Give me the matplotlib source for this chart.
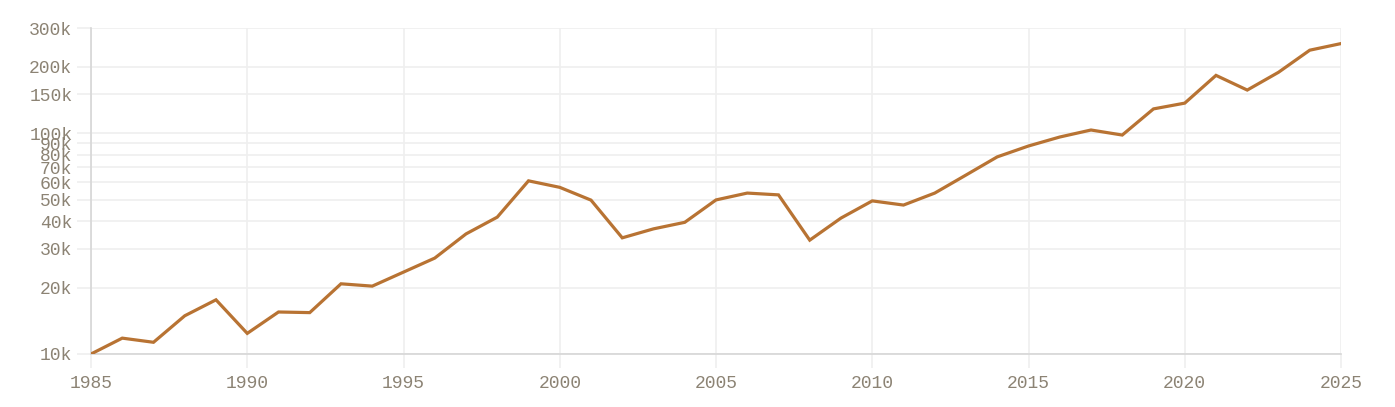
import matplotlib
matplotlib.use("Agg")
import matplotlib.pyplot as plt
from matplotlib.ticker import FixedLocator, NullLocator

years = list(range(1985, 2026))
values = [10000, 11800, 11300, 14900, 17600, 12400, 15500, 15400, 20800, 20300,
          23500, 27200, 35000, 41700, 60900, 56900, 49800, 33600, 36900, 39500,
          49900, 53600, 52600, 32800, 41300, 49400, 47300, 53600, 64700, 78200,
          87600, 96200, 103500, 98200, 129000, 137000, 183000, 157000, 189000, 238000, 255000]

y_ticks = [10000, 20000, 30000, 40000, 50000, 60000, 70000, 80000, 90000, 100000, 150000, 200000, 300000]
y_labels = ["10k", "20k", "30k", "40k", "50k", "60k", "70k", "80k", "90k", "100k", "150k", "200k", "300k"]
x_ticks = [1985, 1990, 1995, 2000, 2005, 2010, 2015, 2020, 2025]
x_labels = [str(v) for v in x_ticks]

LINE = "#b87333"
TEXT = "#8c8374"
GRID = "#efefef"
SPINE = "#d6d6d6"

fig = plt.figure(figsize=(13.95, 4.07), dpi=100)
ax = fig.add_axes([91/1395, 1-354/407, (1341-91)/1395, (354-28)/407])

ax.plot(years, values, color=LINE, lw=2.3, solid_joinstyle="miter", zorder=3)

ax.set_yscale("log")
ax.set_ylim(10000, 300000)
ax.set_xlim(1985, 2025)
ax.yaxis.set_major_locator(FixedLocator(y_ticks))
ax.yaxis.set_minor_locator(NullLocator())
ax.set_yticklabels(y_labels)
ax.set_xticks(x_ticks)
ax.set_xticklabels(x_labels)

ax.grid(True, color=GRID, lw=1.2, zorder=0)
ax.tick_params(axis="both", which="major", length=10, width=1.2, color=GRID,
               labelcolor=TEXT, labelsize=13, pad=3.5)
ax.tick_params(axis="x", pad=5)
for lab in ax.get_xticklabels() + ax.get_yticklabels():
    lab.set_family("Liberation Mono")

for s in ["top", "right"]:
    ax.spines[s].set_visible(False)
for s in ["left", "bottom"]:
    ax.spines[s].set_color(SPINE)
    ax.spines[s].set_linewidth(1.2)

fig.savefig("out.png", dpi=100, facecolor="white")
